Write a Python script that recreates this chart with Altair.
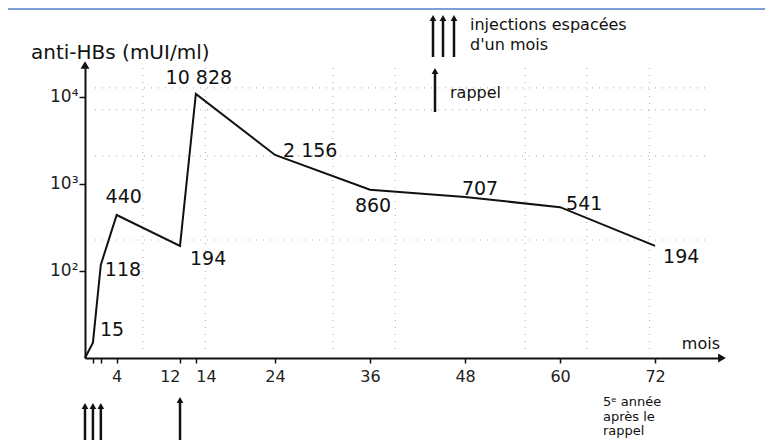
import altair as alt
import pandas as pd

# ---- data ----
months = [0, 1, 2, 4, 12, 14, 24, 36, 48, 60, 72]
titres = [10, 15, 118, 440, 194, 10828, 2156, 860, 707, 541, 194]
labels = ["", "15", "118", "440", "194", "10 828", "2 156", "860", "707", "541", "194"]

x_tick_values = [1, 2, 4, 12, 14, 24, 36, 48, 60, 72]
y_tick_values = [100, 1000, 10000]
y_tick_labels = ["10²", "10³", "10⁴"]

injection_months = [0, 1, 2]
booster_months = [12]

grid_months = [7.3, 15.2, 31.3, 39.2, 55.6, 63.4, 71.3]
grid_levels = [12700, 7100, 2100, 227]

W, H = 635, 290
FONT = "DejaVu Sans"
INK = "#111111"

df = pd.DataFrame({"month": months, "titre": titres, "label": labels})
one = pd.DataFrame({"d": [0]})

x_scale = alt.Scale(domain=[0, 80.2], nice=False, zero=False)
y_scale = alt.Scale(type="log", domain=[10, 21500], nice=False)

ylab_expr = " : ".join(
    [f"datum.value == {v} ? '{l}'" for v, l in zip(y_tick_values, y_tick_labels)]
) + " : ''"


def X(field="month:Q"):
    return alt.X(field, scale=x_scale, title=None)


def Y(field="titre:Q"):
    return alt.Y(field, scale=y_scale, title=None)


# faint dotted grid (scanned graph paper)
vgrid = alt.Chart(pd.DataFrame({"month": grid_months})).mark_rule(
    color="#9a9a9a", strokeDash=[1, 6], strokeWidth=1.2, opacity=0.7
).encode(x=X(), y=alt.value(0), y2=alt.value(H - 8))
hgrid = alt.Chart(pd.DataFrame({"titre": grid_levels})).mark_rule(
    color="#9a9a9a", strokeDash=[1, 6], strokeWidth=1.2, opacity=0.7
).encode(y=Y(), x=alt.value(10), x2=alt.value(W - 10))

line = alt.Chart(df).mark_line(color=INK, strokeWidth=2).encode(
    x=alt.X(
        "month:Q", scale=x_scale, title=None,
        axis=alt.Axis(
            values=x_tick_values,
            labelExpr="datum.value < 3 ? '' : datum.label",
            title=None, grid=False, labelOverlap=False,
            domainColor=INK, domainWidth=2, tickColor=INK, tickWidth=1.5,
            tickSize=5, labelFont=FONT, labelFontSize=16, labelColor="#222",
            labelPadding=5,
            labelAlign={"condition": [
                {"test": "datum.value == 12", "value": "right"},
                {"test": "datum.value == 14", "value": "left"}],
                "value": "center"},
        ),
    ),
    y=alt.Y(
        "titre:Q", scale=y_scale, title=None,
        axis=alt.Axis(
            values=y_tick_values, labelExpr=ylab_expr, title=None, grid=False,
            domainColor=INK, domainWidth=2, tickColor=INK, tickWidth=1.5,
            tickSize=6, labelFont=FONT, labelFontSize=17, labelColor="#222",
            labelPadding=1,
        ),
    ),
    order=alt.Order("month:Q"),
)


def value_label(which, dx, dy, align="left"):
    return alt.Chart(df).transform_filter(
        alt.FieldOneOfPredicate(field="month", oneOf=which)
    ).mark_text(
        font=FONT, fontSize=19, color=INK, align=align, baseline="middle",
        dx=dx, dy=dy,
    ).encode(x=X(), y=Y(), text="label:N")


labels_layers = [
    value_label([1], 7, -13),
    value_label([2], 4, 5),
    value_label([4], 7, -18, "center"),
    value_label([12], 10, 13),
    value_label([14], 3, -16, "center"),
    value_label([24], 8, -4),
    value_label([36], 3, 16, "center"),
    value_label([48], 15, -8, "center"),
    value_label([60], 6, -3),
    value_label([72], 8, 11),
]

# axis arrowheads
y_arrow = alt.Chart(one).mark_point(
    shape="triangle-up", filled=True, color=INK, size=80, opacity=1
).encode(x=alt.value(0), y=alt.value(-3))
x_arrow = alt.Chart(one).mark_point(
    shape="triangle-right", filled=True, color=INK, size=80, opacity=1
).encode(x=alt.value(W + 2), y=alt.value(H))


def arrows_at(data_months, y_top, y_bottom):
    d = pd.DataFrame({"month": data_months})
    shaft = alt.Chart(d).mark_rule(color=INK, strokeWidth=2.5).encode(
        x=X(), y=alt.value(y_top + 3), y2=alt.value(y_bottom),
    )
    head = alt.Chart(d).mark_point(
        shape="triangle-up", filled=True, color=INK, size=45, opacity=1
    ).encode(x=X(), y=alt.value(y_top + 3))
    return [shaft, head]


def px_arrow(x, y_top, y_bottom):
    shaft = alt.Chart(one).mark_rule(color=INK, strokeWidth=2.5).encode(
        x=alt.value(x), y=alt.value(y_top + 3), y2=alt.value(y_bottom))
    head = alt.Chart(one).mark_point(
        shape="triangle-up", filled=True, color=INK, size=45, opacity=1
    ).encode(x=alt.value(x), y=alt.value(y_top + 3))
    return [shaft, head]


def note(text, x, y, size=14, align="left"):
    return alt.Chart(one).mark_text(
        text=text, font=FONT, fontSize=size, color=INK, align=align,
        baseline="middle",
    ).encode(x=alt.value(x), y=alt.value(y))


decor = []
decor += arrows_at(injection_months, 335, 377)
decor += arrows_at(booster_months, 329, 377)
for xx in (348, 358, 369):
    decor += px_arrow(xx, -53, -11)
decor += px_arrow(350, 0, 44)
decor += [
    note("injections espacées", 385, -43, 16),
    note("d'un mois", 385, -23, 16),
    note("rappel", 365, 25, 16),
    note("anti-HBs (mUI/ml)", -54, -15, 20),
    note("mois", W, 276, 16, "right"),
    note("5ᵉ année", 518, 334, 13),
    note("après le", 518, 348.5, 13),
    note("rappel", 518, 363, 13),
]

frame = alt.Chart(one).mark_rule(color="#7ba0d4", strokeWidth=2).encode(
    x=alt.value(-77), x2=alt.value(W + 45), y=alt.value(-59))

chart = alt.layer(
    vgrid, hgrid, line, *labels_layers, y_arrow, x_arrow, *decor, frame
).properties(
    width=W, height=H,
    background="white",
    autosize=alt.AutoSizeParams(type="none"),
    padding={"left": 77, "top": 60, "right": 45, "bottom": 82},
).configure_view(strokeWidth=0, stroke="transparent")

chart.save("out.html", embed_options={"renderer": "svg", "actions": False})
